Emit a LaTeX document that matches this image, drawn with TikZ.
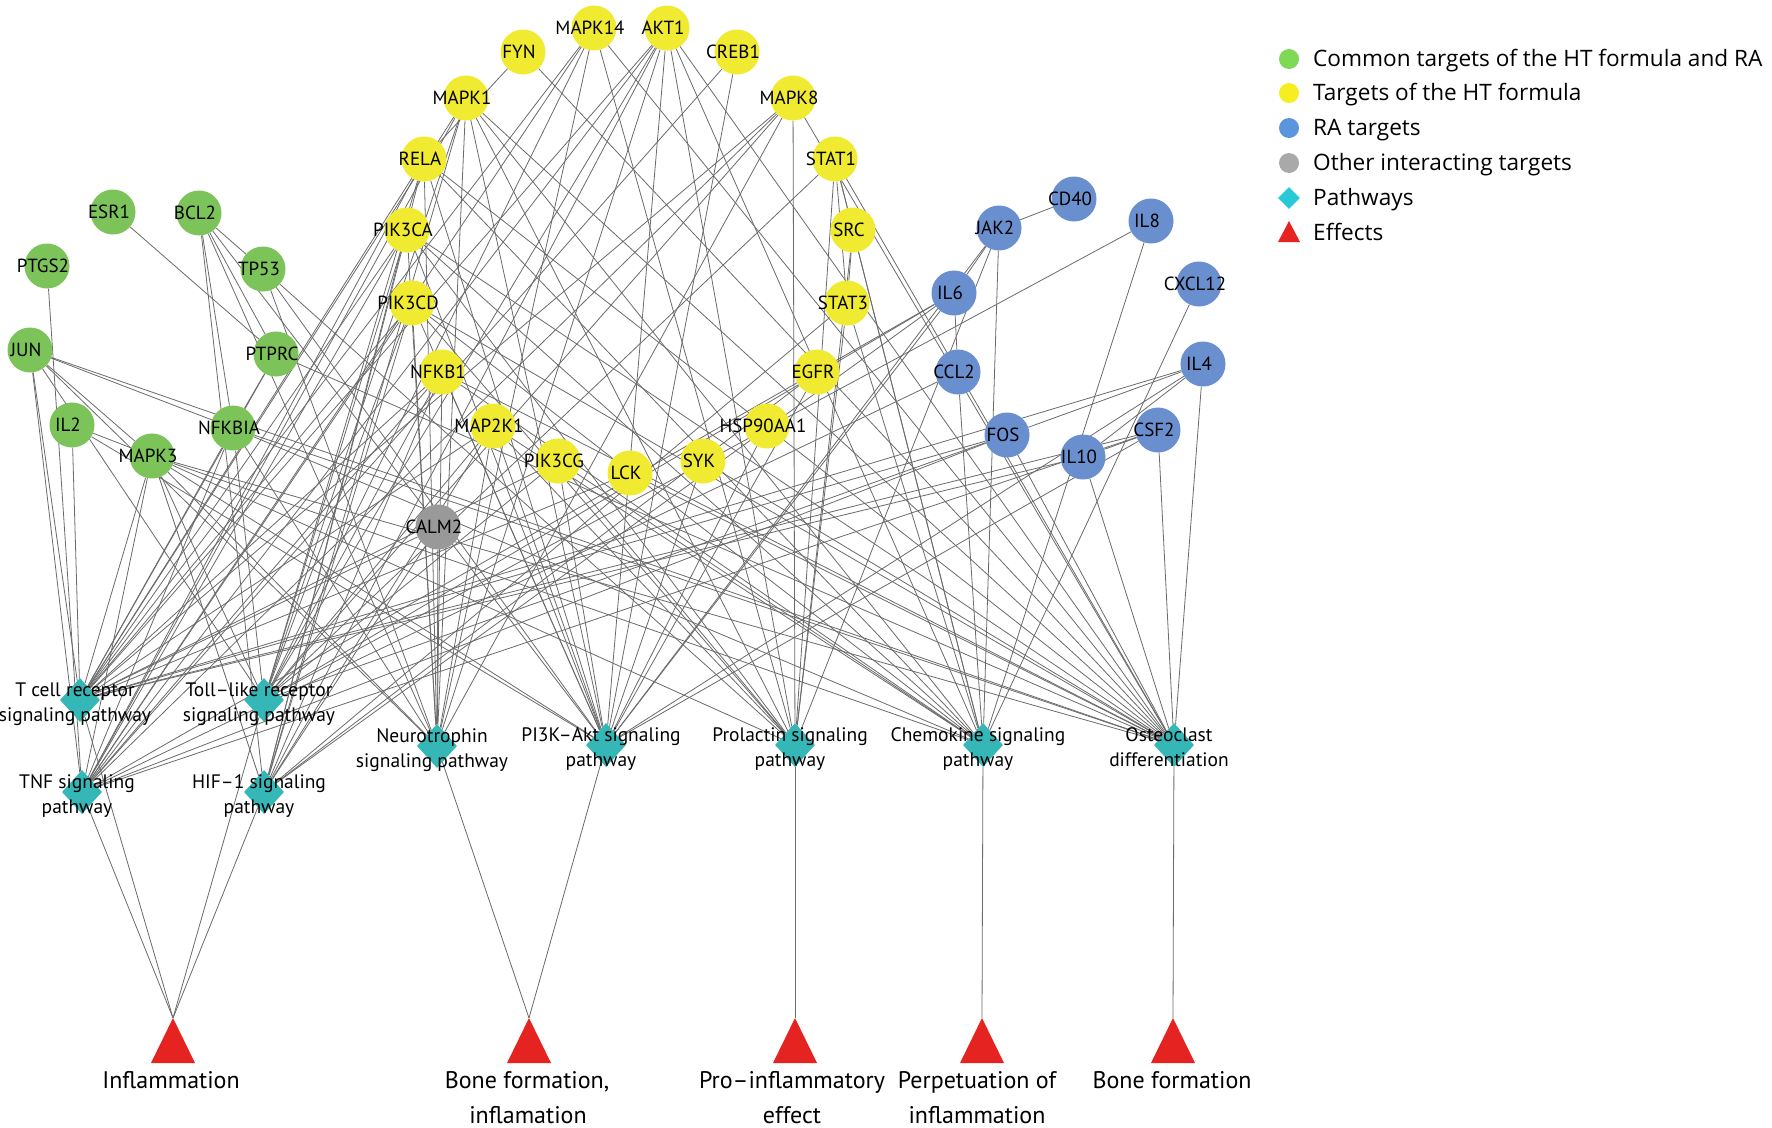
\documentclass[tikz,border=0pt]{standalone}
\usepackage{fontspec}
\setmainfont{PT Sans}
\newfontfamily\legfont{Open Sans}
\usetikzlibrary{shapes.geometric,backgrounds}
\definecolor{cgreen}{HTML}{7CC35A}
\definecolor{cyellow}{HTML}{F0EA30}
\definecolor{cblue}{HTML}{6A8FCF}
\definecolor{cgray}{HTML}{999999}
\definecolor{cteal}{HTML}{35B7B7}
\definecolor{cred}{HTML}{E52421}
\definecolor{lgreen}{HTML}{7ED957}
\definecolor{lyellow}{HTML}{F5EE22}
\definecolor{lblue}{HTML}{5B95DD}
\definecolor{lgray}{HTML}{A9A9A9}
\definecolor{lcyan}{HTML}{27CAD6}
\newcommand\mytgt[4]{\node[#1] (#2) at (#3) {};
  \node[lbl] (#2L) at ([xshift=-4pt]#2.center) {#4};}
\newcommand\pwlab[3]{\node[pwl] (#1La) at ([xshift=-5pt,yshift=4pt]#1.center) {#2};
  \node[pwl] (#1Lb) at ([xshift=-5pt,yshift=-21pt]#1.center) {#3};}
\begin{document}
\begin{tikzpicture}[x=1pt,y=-1pt,
  tgt/.style={circle, minimum size=45pt, inner sep=0pt},
  gn/.style={tgt, fill=cgreen}, yn/.style={tgt, fill=cyellow},
  bn/.style={tgt, fill=cblue}, grn/.style={tgt, fill=cgray},
  lbl/.style={inner sep=0pt, font=\fontsize{19}{20}\selectfont},
  pw/.style={diamond, fill=cteal, minimum width=40pt, minimum height=44pt, inner sep=0pt},
  pwl/.style={inner sep=0pt, anchor=base, font=\fontsize{19.5}{22}\selectfont},
  effl/.style={inner sep=0pt, anchor=base, font=\fontsize{24}{26}\selectfont},
  legt/.style={inner sep=0pt, anchor=base west, font=\legfont\fontsize{22.6}{26}\selectfont},
  lnk/.style={draw=black!58, line width=0.8pt}]
\useasboundingbox (0,0) rectangle (1772,1127);

% green
\mytgt{gn}{esr1}{113,212}{ESR1}
\mytgt{gn}{bcl2}{199,213}{BCL2}
\mytgt{gn}{ptgs2}{47,266}{PTGS2}
\mytgt{gn}{tp53}{263,269}{TP53}
\mytgt{gn}{jun}{30,350}{JUN}
\mytgt{gn}{ptprc}{276,354}{PTPRC}
\mytgt{gn}{il2}{72,425}{IL2}
\mytgt{gn}{nfkbia}{233,428}{NFKBIA}
\mytgt{gn}{mapk3}{152,456}{MAPK3}
% yellow
\mytgt{yn}{mapk14}{594,28}{MAPK14}
\mytgt{yn}{akt1}{667,28}{AKT1}
\mytgt{yn}{fyn}{523,52}{FYN}
\mytgt{yn}{creb1}{737,52}{CREB1}
\mytgt{yn}{mapk1}{466,98}{MAPK1}
\mytgt{yn}{mapk8}{793,98}{MAPK8}
\mytgt{yn}{rela}{424,159}{RELA}
\mytgt{yn}{stat1}{835,159}{STAT1}
\mytgt{yn}{pik3ca}{407,230}{PIK3CA}
\mytgt{yn}{src}{853,230}{SRC}
\mytgt{yn}{pik3cd}{412,303}{PIK3CD}
\mytgt{yn}{stat3}{847,303}{STAT3}
\mytgt{yn}{nfkb1}{442,372}{NFKB1}
\mytgt{yn}{egfr}{817,372}{EGFR}
\mytgt{yn}{map2k1}{493,426}{MAP2K1}
\mytgt{yn}{hsp}{767,426}{HSP90AA1}
\mytgt{yn}{pik3cg}{558,461}{PIK3CG}
\mytgt{yn}{lck}{630,473}{LCK}
\mytgt{yn}{syk}{703,461}{SYK}
% gray
\mytgt{grn}{calm2}{438,527}{CALM2}
% blue
\mytgt{bn}{cd40}{1074,199}{CD40}
\mytgt{bn}{jak2}{999,228}{JAK2}
\mytgt{bn}{il8}{1151,221}{IL8}
\mytgt{bn}{il6}{954,293}{IL6}
\mytgt{bn}{cxcl12}{1199,284}{CXCL12}
\mytgt{bn}{ccl2}{958,372}{CCL2}
\mytgt{bn}{il4}{1203,364}{IL4}
\mytgt{bn}{fos}{1007,435}{FOS}
\mytgt{bn}{csf2}{1158,430}{CSF2}
\mytgt{bn}{il10}{1083,457}{IL10}

% pathways
\node[pw] (tcr) at (80,700) {};
\node[pw] (tlr) at (264,700) {};
\node[pw] (tnf) at (82,792) {};
\node[pw] (hif) at (264,792) {};
\node[pw] (neu) at (437,746) {};
\node[pw] (pi3k) at (606,745) {};
\node[pw] (prl) at (795,745) {};
\node[pw] (che) at (983,745) {};
\node[pw] (ost) at (1174,745) {};
\pwlab{tcr}{T cell receptor}{signaling pathway}
\pwlab{tlr}{Toll–like receptor}{signaling pathway}
\pwlab{tnf}{TNF signaling}{pathway}
\pwlab{hif}{HIF–1 signaling}{pathway}
\pwlab{neu}{Neurotrophin}{signaling pathway}
\pwlab{pi3k}{PI3K–Akt signaling}{pathway}
\pwlab{prl}{Prolactin signaling}{pathway}
\pwlab{che}{Chemokine signaling}{pathway}
\pwlab{ost}{Osteoclast}{differentiation}

% effects (apex coordinates)
\coordinate (eInfl) at (173,1018);
\coordinate (eBoneA) at (529,1018);
\coordinate (ePro) at (795,1018);
\coordinate (ePerp) at (982,1018);
\coordinate (eBoneB) at (1173,1018);
\foreach \e in {eInfl,eBoneA,ePro,ePerp,eBoneB}
  \fill[cred] (\e) -- ++(22,45) -- ++(-44,0) -- cycle;
\node[effl] (eInflL) at (171,1088) {Inflammation};
\node[effl] (eBoneAL) at (527,1088) {Bone formation,};
\node[effl] (eBoneAL2) at (528,1123) {inflamation};
\node[effl] (eProL) at (792,1088) {Pro–inflammatory};
\node[effl] (eProL2) at (792,1123) {effect};
\node[effl] (ePerpL) at (977,1088) {Perpetuation of};
\node[effl] (ePerpL2) at (977,1123) {inflammation};
\node[effl] (eBoneBL) at (1172,1088) {Bone formation};

% legend
\node[circle, fill=lgreen, minimum size=20pt, inner sep=0pt] (lg1) at (1289,59) {};
\node[circle, fill=lyellow, minimum size=20pt, inner sep=0pt] (lg2) at (1289,93) {};
\node[circle, fill=lblue, minimum size=20pt, inner sep=0pt] (lg3) at (1289,128) {};
\node[circle, fill=lgray, minimum size=20pt, inner sep=0pt] (lg4) at (1289,163) {};
\node[diamond, fill=lcyan, minimum width=22pt, minimum height=22pt, inner sep=0pt] (lg5) at (1289,198) {};
\coordinate (lg6) at (1289,221);
\fill[cred] (lg6) -- ++(11,21) -- ++(-22,0) -- cycle;
\node[legt] (lt1) at (1313,66) {Common targets of the HT formula and RA};
\node[legt] (lt2) at (1313,100) {Targets of the HT formula};
\node[legt] (lt3) at (1313,135) {RA targets};
\node[legt] (lt4) at (1313,170) {Other interacting targets};
\node[legt] (lt5) at (1313,205) {Pathways};
\node[legt] (lt6) at (1313,240) {Effects};

\begin{scope}[on background layer]
\fill[white] (0,0) rectangle (1772,1127);
\foreach \a/\b in {esr1/ptprc, bcl2/nfkbia, bcl2/ptprc, bcl2/tp53, jun/nfkbia,
  jun/mapk3, ptprc/nfkbia, il2/mapk3, fyn/rela, jak2/cd40, jak2/il6, il6/ccl2,
  il4/fos, il4/il10, csf2/il10, stat1/src, stat1/stat3, src/stat3, ptgs2/tnf,
  tcr/eInfl, tnf/eInfl, tlr/eInfl, hif/eInfl, neu/eBoneA, pi3k/eBoneA,
  prl/ePro, che/ePerp, ost/eBoneB}
  \draw[lnk] (\a) -- (\b);
\foreach \p/\l in {
  tcr/{jun,il2,ptprc,nfkbia,mapk3,mapk14,akt1,mapk1,mapk8,rela,pik3ca,pik3cd,nfkb1,map2k1,pik3cg,lck,fos,il10,il4,csf2,calm2},
  tlr/{jun,nfkbia,mapk3,mapk14,akt1,mapk1,mapk8,rela,pik3ca,pik3cd,nfkb1,map2k1,pik3cg,stat1,il6,il8,fos},
  tnf/{jun,nfkbia,mapk3,mapk14,akt1,mapk1,mapk8,rela,pik3ca,pik3cd,nfkb1,creb1,il6,ccl2,csf2,fos},
  hif/{bcl2,akt1,mapk1,mapk3,rela,pik3ca,pik3cd,nfkb1,map2k1,egfr,stat3,il6,calm2},
  neu/{jun,bcl2,tp53,nfkbia,mapk3,mapk14,akt1,mapk1,mapk8,rela,pik3ca,pik3cd,nfkb1,map2k1,calm2},
  pi3k/{bcl2,tp53,il2,mapk3,akt1,creb1,mapk1,rela,pik3ca,pik3cd,nfkb1,map2k1,hsp,pik3cg,egfr,syk,jak2,il6,il4,csf2},
  prl/{tp53,mapk3,mapk14,akt1,mapk1,mapk8,pik3ca,pik3cd,map2k1,stat1,src,stat3,jak2,pik3cg},
  che/{nfkbia,mapk3,akt1,mapk1,rela,pik3ca,pik3cd,pik3cg,nfkb1,map2k1,stat1,src,stat3,jak2,il8,ccl2,cxcl12},
  ost/{jun,nfkbia,mapk3,mapk14,akt1,mapk1,mapk8,rela,pik3ca,pik3cd,nfkb1,fyn,syk,lck,stat1,fos,csf2,il4,il10,ptprc}}
  \foreach \t in \l {\draw[lnk] (\t) -- (\p);}
\end{scope}
\end{tikzpicture}
\end{document}
